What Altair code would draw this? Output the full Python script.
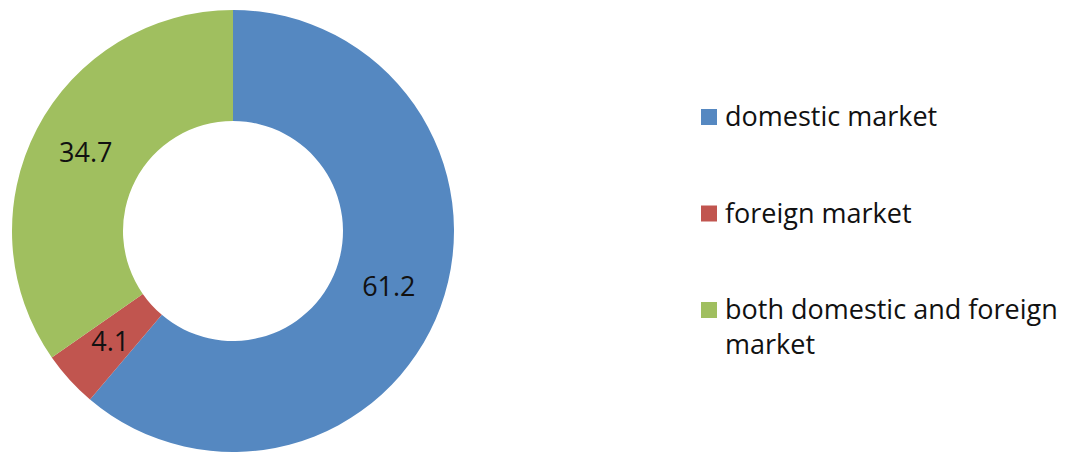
import altair as alt
import pandas as pd

categories = ["domestic market", "foreign market", "both domestic and foreign\nmarket"]
values = [61.2, 4.1, 34.7]
labels = ["61.2", "4.1", "34.7"]
colors = ["#5588c1", "#c1554f", "#a0bf5f"]

df = pd.DataFrame({
    "cat": categories,
    "value": values,
    "label": labels,
    "order": list(range(len(categories))),
})

color = alt.Color("cat:N", scale=alt.Scale(domain=categories, range=colors), legend=None)
FONT = "Open Sans"

base = alt.Chart(df)

arcs = base.mark_arc(radius=221, radius2=110, stroke=None).encode(
    theta=alt.Theta("value:Q", stack=True),
    order=alt.Order("order:Q"),
    color=color,
    x=alt.value(233),
    y=alt.value(231),
)

arc_labels = base.mark_text(radius=166, font=FONT, fontSize=27, color="#111111",
                            align="center", baseline="middle").encode(
    theta=alt.Theta("value:Q", stack=True),
    order=alt.Order("order:Q"),
    text="label:N",
    x=alt.value(233),
    y=alt.value(231),
)

legend_y = alt.Y("cat:N", sort=categories, axis=None,
                 scale=alt.Scale(type="point", range=[117, 310], padding=0))

legend_sq = base.mark_square(size=256, opacity=1).encode(
    x=alt.value(709),
    y=legend_y,
    color=color,
)

legend_txt = base.mark_text(font=FONT, fontSize=27, color="#111111", align="left",
                            baseline="alphabetic", dy=9, lineBreak="\n",
                            lineHeight=35).encode(
    x=alt.value(725),
    y=legend_y,
    text="cat:N",
)

chart = alt.layer(arcs, arc_labels, legend_sq, legend_txt).properties(
    width=1066, height=455, padding=0, autosize="none", background="white"
).configure_view(stroke=None)

chart.save("out.html", embed_options={"renderer": "svg", "actions": False})
